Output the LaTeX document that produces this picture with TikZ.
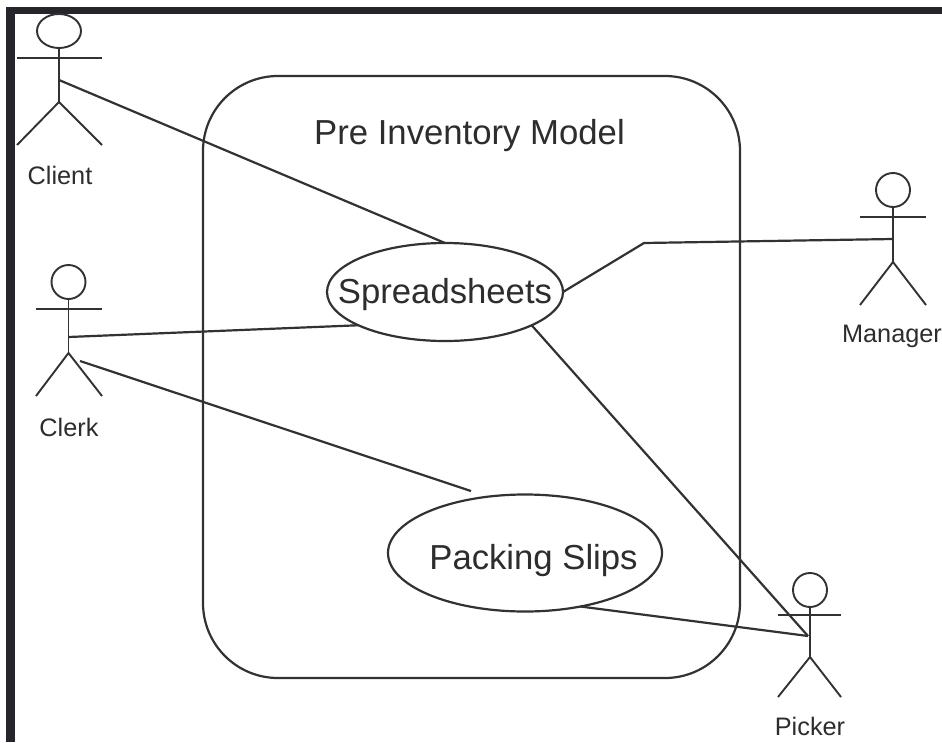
\documentclass[tikz,border=0pt]{standalone}
\usepackage{fontspec}
\setmainfont{Liberation Sans}
\usetikzlibrary{shapes.geometric}
\definecolor{dark_gray}{RGB}{50,50,52}
\definecolor{frame_gray}{RGB}{37,38,43}
\definecolor{text_gray}{RGB}{45,45,45}
\tikzset{
    stroke/.style={line width=2.2pt,draw=dark_gray},
    thin_stroke/.style={line width=1.9pt,draw=dark_gray},
    head/.style={circle,thin_stroke,inner sep=0pt,minimum size=34pt,outer sep=0pt},
    usecase/.style={ellipse,stroke,inner sep=0pt,outer sep=0pt},
    big_label/.style={text=text_gray,font=\fontsize{34.7}{38}\selectfont},
    actor_label/.style={text=text_gray,font=\fontsize{25.3}{28}\selectfont}
}

\begin{document}
\begin{tikzpicture}[x=1pt,y=-1pt]
        \useasboundingbox (0,0) rectangle (942,742);
        \fill[white] (0,0) rectangle (942,742);

        % frame
        \fill[frame_gray] (6,7) rectangle (15,742);
        \fill[frame_gray] (6,7) rectangle (942,14);

        % system box
        \draw[stroke,rounded corners=75pt] (203,76) rectangle (740,678);
        \node[big_label] (title_model) at (469.5,136) {Pre Inventory Model};

        % use cases
        \node[usecase,minimum width=236pt,minimum height=98pt] (spreadsheets) at (445,292) {};
        \node[big_label] (spreadsheets_text) at (445,295) {Spreadsheets};
        \node[usecase,minimum width=274pt,minimum height=117pt] (packing_slips) at (525,553) {};
        \node[big_label] (packing_text) at (533.5,561) {Packing Slips};

        % client
        \node[head,minimum size=0pt,ellipse,minimum width=44pt,minimum height=34pt] (client_head) at (59,31) {};
        \coordinate (client_neck) at (59,102);
        \coordinate (client_hook) at (59,80);
        \draw[thin_stroke] (client_head.south) -- (client_neck);
        \draw[thin_stroke] (17,58) -- (102,58);
        \draw[thin_stroke] (17,145) -- (client_neck) -- (102,145);
        \node[actor_label] (client) at (60,175) {Client};

        % clerk
        \node[head] (clerk_head) at (68.5,282) {};
        \coordinate (clerk_neck) at (68.5,353);
        \coordinate (clerk_hook) at (68.5,337);
        \coordinate (clerk_hook2) at (80,361);
        \draw[thin_stroke] (clerk_head.south) -- (clerk_neck);
        \draw[thin_stroke] (36,309) -- (102,309);
        \draw[thin_stroke] (36,396) -- (clerk_neck) -- (102,396);
        \node[actor_label] (clerk) at (69,427) {Clerk};

        % manager
        \node[head] (manager_head) at (893,190) {};
        \coordinate (manager_neck) at (893,262);
        \coordinate (manager_hook) at (893,239);
        \draw[thin_stroke] (manager_head.south) -- (manager_neck);
        \draw[thin_stroke] (860,217) -- (926,217);
        \draw[thin_stroke] (860,305) -- (manager_neck) -- (926,305);
        \node[actor_label] (manager) at (892,336) {Manager};

        % picker
        \node[head] (picker_head) at (810,590) {};
        \coordinate (picker_neck) at (810,657);
        \coordinate (picker_hook) at (808,636);
        \draw[thin_stroke] (picker_head.south) -- (picker_neck);
        \draw[thin_stroke] (778,615) -- (841,615);
        \draw[thin_stroke] (778,697) -- (picker_neck) -- (841,697);
        \node[actor_label] (picker) at (810,726) {Picker};

        % connectors
        \coordinate (manager_bend) at (644,243);
        \coordinate (packing_top) at (471,491);
        \draw[stroke] (client_hook) -- (spreadsheets.north);
        \draw[stroke] (manager_hook) -- (manager_bend) -- (spreadsheets.east);
        \draw[stroke] (clerk_hook) -- (spreadsheets.201);
        \draw[stroke] (clerk_hook2) -- (packing_top);
        \draw[stroke] (spreadsheets.339) -- (picker_hook);
        \draw[stroke] (packing_slips.316) -- (picker_hook);
\end{tikzpicture}
\end{document}
